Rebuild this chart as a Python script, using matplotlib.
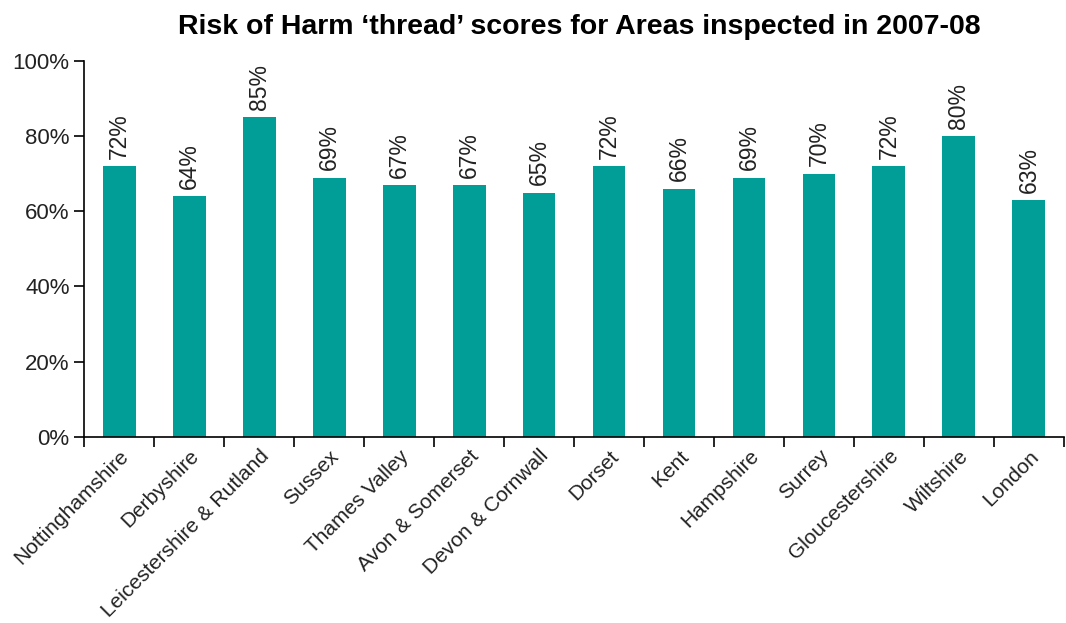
import numpy as np
import matplotlib.pyplot as plt
from matplotlib.ticker import FixedLocator, PercentFormatter

areas = ['Nottinghamshire', 'Derbyshire', 'Leicestershire & Rutland', 'Sussex',
         'Thames Valley', 'Avon & Somerset', 'Devon & Cornwall', 'Dorset', 'Kent',
         'Hampshire', 'Surrey', 'Gloucestershire', 'Wiltshire', 'London']
scores = [72, 64, 85, 69, 67, 67, 65, 72, 66, 69, 70, 72, 80, 63]

plt.rcParams['font.family'] = ['Liberation Sans', 'DejaVu Sans']

fig = plt.figure(figsize=(10.66, 6.23), dpi=100)
ax = fig.add_axes([0.079, 0.299, 0.919, 0.603])

x = np.arange(len(areas))
bars = ax.bar(x, scores, width=0.47, color='#009e96')

for b, v in zip(bars, scores):
    ax.text(b.get_x() + b.get_width() / 2, v + 2, f'{v}%', rotation=90,
            ha='center', va='bottom', fontsize=16.5, color='#222222')

ax.set_xlim(-0.5, len(areas) - 0.5)
ax.set_ylim(0, 100)
ax.yaxis.set_major_locator(FixedLocator([0, 20, 40, 60, 80, 100]))
ax.yaxis.set_major_formatter(PercentFormatter(decimals=0))

# category boundaries get the tick marks, names sit under the bars
ax.set_xticks(np.arange(len(areas) + 1) - 0.5)
ax.set_xticklabels([])
ax.set_xticks(x, minor=True)
ax.set_xticklabels(areas, minor=True, rotation=45, ha='right',
                   rotation_mode='anchor', fontsize=15, color='#222222')
ax.tick_params(axis='x', which='minor', length=0, pad=7)
ax.tick_params(axis='x', which='major', length=7, width=1.2, direction='out')
ax.tick_params(axis='y', length=7, width=1.2, labelsize=16, labelcolor='#222222')

for s in ['top', 'right']:
    ax.spines[s].set_visible(False)
for s in ['left', 'bottom']:
    ax.spines[s].set_linewidth(1.2)

fig.text(0.543, 0.957, 'Risk of Harm \u2018thread\u2019 scores for Areas inspected in 2007-08',
         ha='center', va='center', fontsize=20.5, fontweight='bold')

fig.savefig('out.png', dpi=100)
